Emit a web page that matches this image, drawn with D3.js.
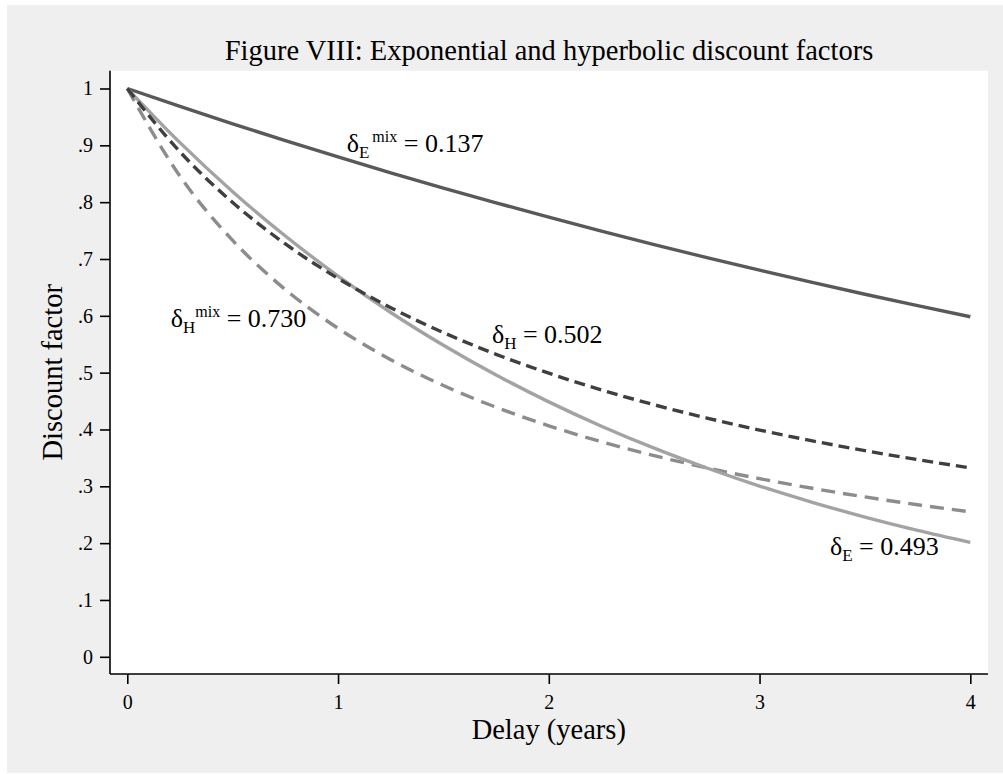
<!DOCTYPE html>
<html>
<head>
<meta charset="utf-8">
<script src="https://cdn.jsdelivr.net/npm/d3@7"></script>
<style>
  html, body { margin: 0; padding: 0; background: #ffffff; }
  svg { display: block; }
  text { font-family: "Liberation Serif", "Times New Roman", "DejaVu Serif", serif; fill: #000; }
</style>
</head>
<body>
<svg id="chart" width="1003" height="774"></svg>
<script>
// Delay in years at which each discount factor is listed
const delays = [0, 0.25, 0.5, 0.75, 1, 1.25, 1.5, 1.75, 2, 2.25, 2.5, 2.75, 3, 3.25, 3.5, 3.75, 4];

// Exponential discount factor, delta_E^mix = 0.137
const expMix = [1, 0.9684, 0.9378, 0.9082, 0.8795, 0.8517, 0.8248, 0.7988, 0.7735,
                0.7491, 0.7254, 0.7025, 0.6803, 0.6588, 0.6380, 0.6179, 0.5983];
// Exponential discount factor, delta_E = 0.493
const expE = [1, 0.9047, 0.8184, 0.7404, 0.6698, 0.6059, 0.5482, 0.4959, 0.4486,
              0.4058, 0.3671, 0.3322, 0.3005, 0.2719, 0.2459, 0.2225, 0.2013];
// Hyperbolic discount factor, delta_H = 0.502
const hypH = [1, 0.8885, 0.7994, 0.7265, 0.6658, 0.6144, 0.5705, 0.5323, 0.4990,
              0.4696, 0.4435, 0.4201, 0.3990, 0.3800, 0.3627, 0.3469, 0.3324];
// Hyperbolic discount factor, delta_H^mix = 0.730
const hypMix = [1, 0.8457, 0.7326, 0.6462, 0.5780, 0.5229, 0.4773, 0.4391, 0.4065,
                0.3784, 0.3540, 0.3325, 0.3135, 0.2965, 0.2813, 0.2676, 0.2551];

const xTicks = [0, 1, 2, 3, 4];
const yTicks = [0, 0.1, 0.2, 0.3, 0.4, 0.5, 0.6, 0.7, 0.8, 0.9, 1];
const yTickLabels = ["0", ".1", ".2", ".3", ".4", ".5", ".6", ".7", ".8", ".9", "1"];

const titleText = "Figure VIII: Exponential and hyperbolic discount factors";
const xTitle = "Delay (years)";
const yTitle = "Discount factor";

// Annotation labels: symbol subscript, optional superscript, value, anchor in data units
const labels = [
  { sub: "E", sup: "mix", value: "0.137", t: 1.041, v: 0.889 },
  { sub: "H", sup: "mix", value: "0.730", t: 0.206, v: 0.581 },
  { sub: "H", sup: null,  value: "0.502", t: 1.730, v: 0.552 },
  { sub: "E", sup: null,  value: "0.493", t: 3.334, v: 0.179 }
];

const svg = d3.select("#chart");

// outer graph region
svg.append("rect").attr("x", 7).attr("y", 5).attr("width", 996).attr("height", 768)
  .attr("fill", "#efefef");

// plot region
const plot = { left: 110, right: 988, top: 70.7, bottom: 674 };
svg.append("rect")
  .attr("x", plot.left).attr("y", plot.top)
  .attr("width", plot.right - plot.left).attr("height", plot.bottom - plot.top)
  .attr("fill", "#ffffff");

const x = d3.scaleLinear().domain([0, 4]).range([127.3, 970.3]);
const y = d3.scaleLinear().domain([0, 1]).range([656.8, 88.5]);

// axes
const xAxis = d3.axisBottom(x).tickValues(xTicks).tickSize(10).tickPadding(6)
  .tickFormat(d3.format("d"));
const gx = svg.append("g").attr("transform", `translate(0,${plot.bottom})`).call(xAxis);
gx.select(".domain").attr("d", `M${plot.left},0H${plot.right}`)
  .attr("stroke", "#000").attr("stroke-width", 1.6);
gx.selectAll(".tick line").attr("stroke", "#000").attr("stroke-width", 1.6);
gx.selectAll(".tick text").attr("font-size", 20).attr("font-family", null)
  .attr("y", 21).attr("dy", "0.71em");

const yAxis = d3.axisLeft(y).tickValues(yTicks).tickSize(10).tickPadding(7)
  .tickFormat((d, i) => yTickLabels[i]);
const gy = svg.append("g").attr("transform", `translate(${plot.left},0)`).call(yAxis);
gy.select(".domain").attr("d", `M0,${plot.top}V${plot.bottom}`)
  .attr("stroke", "#000").attr("stroke-width", 1.6);
gy.selectAll(".tick line").attr("stroke", "#000").attr("stroke-width", 1.6);
gy.selectAll(".tick text").attr("font-size", 20).attr("font-family", null);

// curves
const line = d3.line().x((d, i) => x(delays[i])).y(d => y(d)).curve(d3.curveMonotoneX);
const series = [
  { values: expMix, color: "#595959", dash: null },
  { values: hypMix, color: "#8c8c8c", dash: "14,8" },
  { values: expE,   color: "#a3a3a3", dash: null },
  { values: hypH,   color: "#3f3f3f", dash: "11,6" }
];
svg.append("g").selectAll("path").data(series).join("path")
  .attr("d", d => line(d.values))
  .attr("fill", "none")
  .attr("stroke", d => d.color)
  .attr("stroke-width", 3.4)
  .attr("stroke-dasharray", d => d.dash);

// annotations
labels.forEach(l => {
  const t = svg.append("text")
    .attr("x", x(l.t)).attr("y", y(l.v))
    .attr("font-size", 26);
  t.append("tspan").text("δ");
  t.append("tspan").attr("font-size", 17).attr("dy", 6).text(l.sub);
  if (l.sup) {
    t.append("tspan").attr("font-size", 16).attr("dx", l.sub === "E" ? 3 : 0).attr("dy", -16).text(l.sup);
    t.append("tspan").attr("dy", 10).text(" = " + l.value);
  } else {
    t.append("tspan").attr("dy", -6).text(" = " + l.value);
  }
});

// titles
svg.append("text").attr("x", (plot.left + plot.right) / 2).attr("y", 60)
  .attr("text-anchor", "middle").attr("font-size", 28.5).text(titleText);
svg.append("text").attr("x", x(2)).attr("y", 738.7)
  .attr("text-anchor", "middle").attr("font-size", 28.5).text(xTitle);
svg.append("text").attr("transform", `translate(61.7,${(plot.top + plot.bottom) / 2}) rotate(-90)`)
  .attr("text-anchor", "middle").attr("font-size", 28.5).text(yTitle);
</script>
</body>
</html>
